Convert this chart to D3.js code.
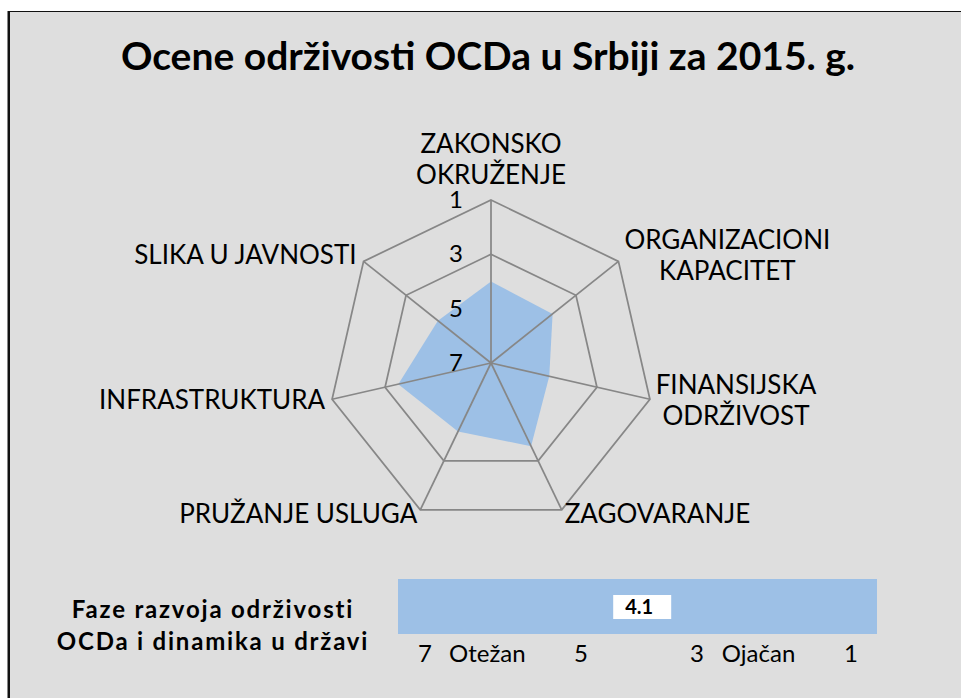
<!DOCTYPE html>
<html>
<head>
<meta charset="utf-8">
<script src="https://cdn.jsdelivr.net/npm/d3@7"></script>
<style>
  body { margin: 0; background: #fff; }
  text { font-family: Lato, "Open Sans", sans-serif; fill: #000; }
</style>
</head>
<body>
<svg width="961" height="698"></svg>
<script>
// values (scale: 7 = weakest, 1 = strongest)
let categories = [
  ["ZAKONSKO", "OKRUŽENJE"],
  ["ORGANIZACIONI", "KAPACITET"],
  ["FINANSIJSKA", "ODRŽIVOST"],
  ["ZAGOVARANJE"],
  ["PRUŽANJE USLUGA"],
  ["INFRASTRUKTURA"],
  ["SLIKA U JAVNOSTI"]
];
let scores = [4.0, 4.1, 4.8, 3.6, 4.2, 3.5, 4.5];
let gridValues = [1, 3, 5];
let tickValues = [1, 3, 5, 7];
let overall = 4.1;
let phaseTicks = [7, 5, 3, 1];
let phaseNames = [{v: 7, name: "Otežan"}, {v: 3, name: "Ojačan"}];

let svg = d3.select("svg");
let width = +svg.attr("width");
let height = +svg.attr("height");

// chart area + border
svg.append("rect")
  .attr("x", 9).attr("y", 11.5)
  .attr("width", width).attr("height", height)
  .attr("fill", "#dedede");
svg.append("line").attr("x1", 8.75).attr("x2", 8.75).attr("y1", 11).attr("y2", height)
  .attr("stroke", "#111").attr("stroke-width", 2.5);
svg.append("line").attr("x1", 8).attr("x2", width).attr("y1", 11.5).attr("y2", 11.5)
  .attr("stroke", "#111").attr("stroke-width", 1.2);

svg.append("text")
  .attr("x", 488).attr("y", 70)
  .attr("text-anchor", "middle")
  .style("font-size", "39px").style("font-weight", "bold")
  .text("Ocene održivosti OCDa u Srbiji za 2015. g.");

// radar
let cx = 491, cy = 363;
let r = d3.scaleLinear().domain([7, 1]).range([0, 163]);
let n = categories.length;
let angle = d3.scaleLinear().domain([0, n]).range([0, 2 * Math.PI]);

let g = svg.append("g").attr("transform", "translate(" + cx + "," + cy + ")");

let ring = d3.lineRadial()
  .angle((d, i) => angle(i))
  .radius(d => r(d))
  .curve(d3.curveLinearClosed);

g.append("g").selectAll("path")
  .data(gridValues)
  .enter().append("path")
  .attr("d", v => ring(d3.range(n).map(() => v)))
  .attr("fill", "none")
  .attr("stroke", "#878787")
  .attr("stroke-width", 1.75);

g.append("path")
  .attr("d", ring(scores))
  .attr("fill", "#9dc0e6");

function pt(i, v) {
  let a = angle(i) - Math.PI / 2;
  return [r(v) * Math.cos(a), r(v) * Math.sin(a)];
}

g.append("g").selectAll("line")
  .data(d3.range(n))
  .enter().append("line")
  .attr("x1", 0).attr("y1", 0)
  .attr("x2", i => pt(i, 1)[0])
  .attr("y2", i => pt(i, 1)[1])
  .attr("stroke", "#878787")
  .attr("stroke-width", 1.75);

g.append("g").selectAll("text")
  .data(tickValues)
  .enter().append("text")
  .attr("x", -28)
  .attr("y", v => -r(v) + 8)
  .attr("text-anchor", "end")
  .style("font-size", "24px")
  .text(d => d);

// category labels
let lineH = 31;
g.append("g").selectAll("g")
  .data(categories)
  .enter().append("g")
  .each(function(lines, i) {
    let p = pt(i, 1);
    let a = angle(i) - Math.PI / 2;
    let c = Math.cos(a), s = Math.sin(a);
    let t = d3.select(this).append("text").style("font-size", "26px");
    lines.forEach((l, k) => t.append("tspan").attr("dy", k === 0 ? 0 : lineH).text(l));
    let w = d3.max(t.selectAll("tspan").nodes(), nd => nd.getComputedTextLength());
    let x, y0;
    if (Math.abs(c) < 0.1) {
      x = p[0];
      y0 = p[1] - 16 - (lines.length - 1) * lineH;
    } else if (s > 0.8) {
      x = c > 0 ? p[0] + 3 + w / 2 : p[0] - 3 - w / 2;
      y0 = p[1] + 13;
    } else {
      x = c > 0 ? p[0] + 6 + w / 2 : p[0] - 7 - w / 2;
      y0 = p[1] + 8 + s * 8 - (lines.length - 1) * lineH / 2;
    }
    t.attr("text-anchor", "middle").attr("y", y0);
    t.selectAll("tspan").attr("x", x);
  });

// phase bar
let barX0 = 398, barX1 = 877;
let x = d3.scaleLinear().domain(phaseTicks).range([425, 581, 697, 851]);

svg.append("rect")
  .attr("x", barX0).attr("y", 579)
  .attr("width", barX1 - barX0).attr("height", 55)
  .attr("fill", "#9dc0e6");

svg.append("rect")
  .attr("x", x(overall) - 20).attr("y", 595)
  .attr("width", 58).attr("height", 24)
  .attr("fill", "#fff");
svg.append("text")
  .attr("x", x(overall) + 6).attr("y", 614)
  .attr("text-anchor", "middle")
  .style("font-size", "20px").style("font-weight", "bold")
  .text(overall.toFixed(1));

svg.append("g").selectAll("text")
  .data(phaseTicks)
  .enter().append("text")
  .attr("x", d => x(d)).attr("y", 662)
  .attr("text-anchor", "middle")
  .style("font-size", "24px")
  .text(d => d);

svg.append("g").selectAll("text")
  .data(phaseNames)
  .enter().append("text")
  .attr("x", d => x(d.v - 0.8)).attr("y", 662)
  .attr("text-anchor", "middle")
  .style("font-size", "24px")
  .text(d => d.name);

let side = svg.append("text")
  .attr("text-anchor", "middle")
  .style("font-size", "24px").style("font-weight", "bold")
  .style("letter-spacing", "1.8px");
side.append("tspan").attr("x", 213).attr("y", 618).text("Faze razvoja održivosti");
side.append("tspan").attr("x", 213).attr("y", 650).text("OCDa i dinamika u državi");
</script>
</body>
</html>
